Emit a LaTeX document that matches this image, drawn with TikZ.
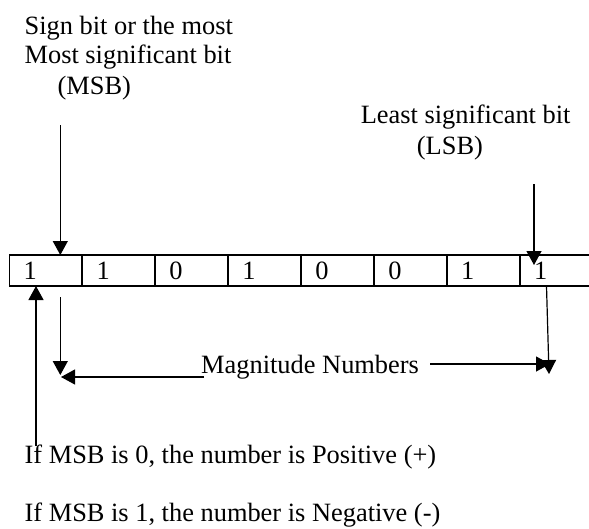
\documentclass[tikz,border=0pt]{standalone}
\usepackage{fontspec}
\setmainfont{Liberation Serif}
\usetikzlibrary{arrows.meta}
\begin{document}
\begin{tikzpicture}[x=1pt,y=-1pt,
  txt/.style={anchor=base west,inner sep=0pt,font=\fontsize{26.4}{30.5}\selectfont},
  reg/.style={line width=1.8pt},
  arr/.style={line width=1.2pt,-{Triangle[length=14pt,width=15pt]}},
  ln/.style={line width=1.2pt}]
\useasboundingbox (0,0) rectangle (589,528);
% register
\draw[reg] (589,255) -- (9.4,255) -- (9.4,286) -- (589,286);
\foreach \i in {1,...,7} \draw[reg] ({9.4+\i*72.94},255) -- ({9.4+\i*72.94},286);
\foreach \d [count=\i from 0] in {1,1,0,1,0,0,1,1} \node[txt] (b\i) at ({23.4+\i*72.94},279) {\d};
% texts
\node[txt] (msb1) at (24.4,34.3) {Sign bit or the most};
\node[txt] (msb2) at (24.4,63.8) {Most significant bit};
\node[txt] (msb3) at (57.5,94.3) {(MSB)};
\node[txt] (lsb1) at (360.6,123.3) {Least significant bit};
\node[txt] (lsb2) at (416.7,154.3) {(LSB)};
\node[txt] (mag) at (201,373.3) {Magnitude Numbers};
\node[txt] (pos) at (24.4,463.3) {If MSB is 0, the number is Positive (+)};
\node[txt] (neg) at (24.4,521.7) {If MSB is 1, the number is Negative (-)};
% arrow end points
\coordinate (msbS) at (60.3,125);   \coordinate (msbE) at (60.3,255);
\coordinate (lsbS) at (534,184);    \coordinate (lsbE) at (534,265);
\coordinate (upS) at (36,446);      \coordinate (upE) at (36,286);
\coordinate (dlS) at (60.3,297);    \coordinate (dlE) at (60.3,375);
\coordinate (hlS) at (204,377);     \coordinate (hlE) at (61,377);
\coordinate (hrS) at (430,364);     \coordinate (hrE) at (550,364);
\coordinate (drS) at (546.5,286);   \coordinate (drE) at (549,374);
\draw[arr] (msbS) -- (msbE);
\draw[arr] (lsbS) -- (lsbE);
\draw[arr] (upS) -- (upE);
\draw[arr] (dlS) -- (dlE);
\draw[arr] (hlS) -- (hlE);
\draw[arr] (hrS) -- (hrE);
\draw[arr] (drS) -- (drE);
\end{tikzpicture}
\end{document}
